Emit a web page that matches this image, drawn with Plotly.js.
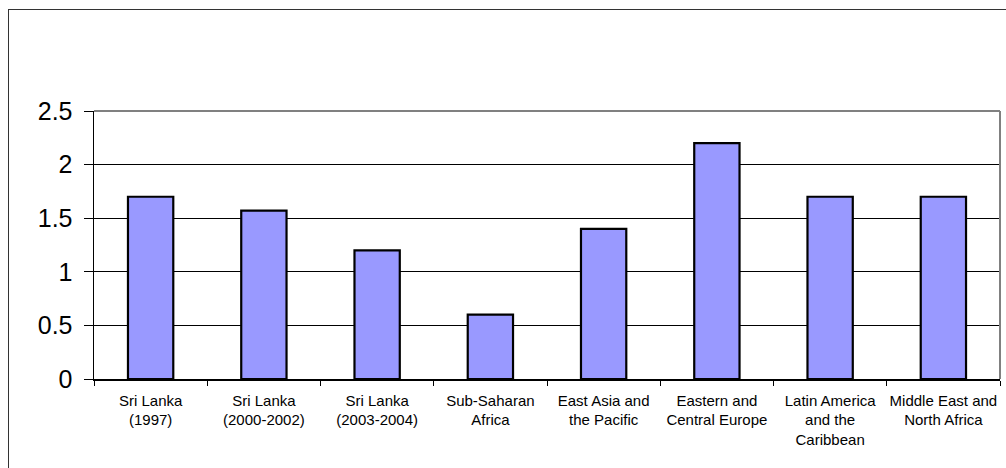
<!DOCTYPE html>
<html>
<head>
<meta charset="utf-8">
<script src="https://cdn.plot.ly/plotly-3.0.1.min.js"></script>
<style>
  html, body { margin: 0; padding: 0; background: #ffffff; overflow: hidden; }
  #wrap { position: relative; width: 1006px; height: 468px; }
  #frame { position: absolute; left: 8px; top: 9px; width: 1100px; height: 600px;
           border: 1.5px solid #333333; box-sizing: border-box; }
  #chart { position: absolute; left: 0; top: 0; width: 1006px; height: 468px; }
</style>
</head>
<body>
<div id="wrap">
  <div id="frame"></div>
  <div id="chart"></div>
</div>
<script>
// Regions / periods shown along the x axis
const categories = [
  "Sri Lanka<br>(1997)",
  "Sri Lanka<br>(2000-2002)",
  "Sri Lanka<br>(2003-2004)",
  "Sub-Saharan<br>Africa",
  "East Asia and<br>the Pacific",
  "Eastern and<br>Central Europe",
  "Latin America<br>and the<br>Caribbean",
  "Middle East and<br>North Africa"
];

// Bar heights
const values = [1.7, 1.57, 1.2, 0.6, 1.4, 2.2, 1.7, 1.7];

// Y axis ticks
const yTickVals = [0, 0.5, 1, 1.5, 2, 2.5];
const yTickText = ["0", "0.5", "1", "1.5", "2", "2.5"];

const fontFamily = "Liberation Sans, Arial, sans-serif";

const trace = {
  type: "bar",
  x: categories,
  y: values,
  marker: { color: "#9999FF", line: { color: "#000000", width: 2.2 } },
  hoverinfo: "skip"
};

const layout = {
  width: 1006,
  height: 468,
  margin: { l: 94, r: 6, t: 111, b: 89, pad: 0 },
  paper_bgcolor: "rgba(0,0,0,0)",
  plot_bgcolor: "#ffffff",
  showlegend: false,
  bargap: 0.6,
  font: { family: fontFamily, color: "#000000" },
  xaxis: {
    type: "category",
    tickson: "boundaries",
    ticks: "outside",
    ticklen: 5,
    tickcolor: "#000000",
    tickwidth: 1,
    ticklabelstandoff: 7,
    showline: true,
    linecolor: "#000000",
    linewidth: 1.5,
    showgrid: false,
    zeroline: false,
    tickangle: 0,
    tickfont: { family: fontFamily, size: 15, color: "#000000" },
    fixedrange: true
  },
  yaxis: {
    range: [0, 2.5],
    tickvals: yTickVals,
    ticktext: yTickText,
    ticks: "outside",
    ticklen: 9,
    tickcolor: "#000000",
    tickwidth: 1,
    ticklabelstandoff: 6,
    showline: true,
    linecolor: "#000000",
    linewidth: 1.5,
    showgrid: true,
    gridcolor: "#000000",
    gridwidth: 1,
    zeroline: false,
    tickfont: { family: fontFamily, size: 25, color: "#000000" },
    fixedrange: true
  },
  shapes: [
    // plot-area border on the top and right sides
    { type: "line", xref: "paper", yref: "paper", x0: 0, x1: 1, y0: 1, y1: 1,
      line: { color: "#808080", width: 2 } },
    { type: "line", xref: "paper", yref: "paper", x0: 1, x1: 1, y0: 0, y1: 1,
      line: { color: "#808080", width: 2 } }
  ]
};

Plotly.newPlot("chart", [trace], layout, { displayModeBar: false, staticPlot: true });
</script>
</body>
</html>
